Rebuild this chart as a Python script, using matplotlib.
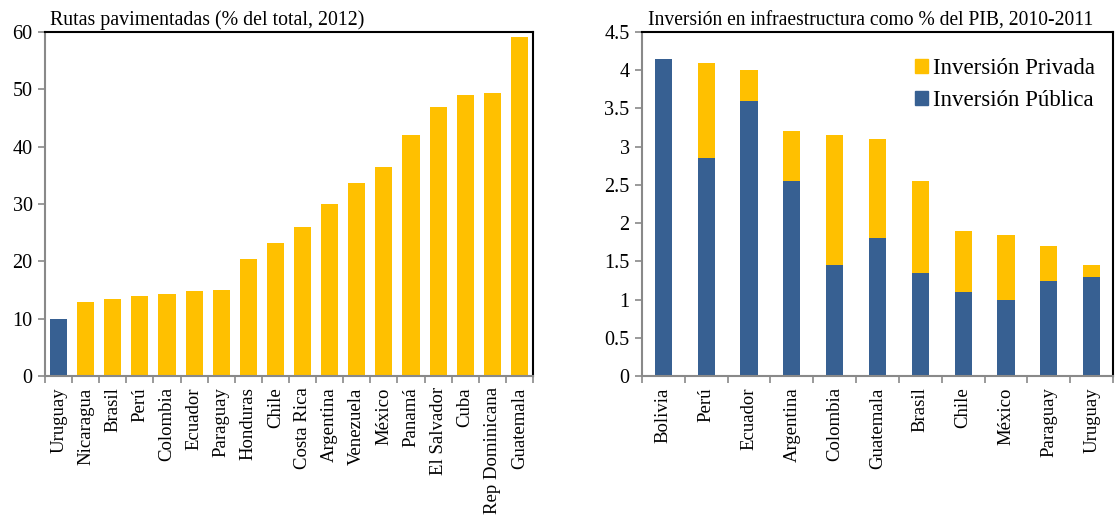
import matplotlib
matplotlib.use("Agg")
import matplotlib.pyplot as plt
import numpy as np
from matplotlib.patches import Patch

plt.rcParams['font.family'] = ['Liberation Serif', 'DejaVu Serif']

YELLOW = "#FFC000"
BLUE = "#376092"
GRAY = "#898989"

# left panel: paved roads
rutas_paises = ["Uruguay", "Nicaragua", "Brasil", "Perú", "Colombia", "Ecuador",
                "Paraguay", "Honduras", "Chile", "Costa Rica", "Argentina",
                "Venezuela", "México", "Panamá", "El Salvador", "Cuba",
                "Rep Dominicana", "Guatemala"]
rutas_valores = [10.0, 12.9, 13.4, 13.9, 14.3, 14.8, 15.1, 20.4, 23.3, 26.0,
                 30.0, 33.6, 36.4, 42.0, 46.9, 49.0, 49.4, 59.2]
rutas_yticks = [0, 10, 20, 30, 40, 50, 60]

# right panel: infrastructure investment
inv_paises = ["Bolivia", "Perú", "Ecuador", "Argentina", "Colombia", "Guatemala",
              "Brasil", "Chile", "México", "Paraguay", "Uruguay"]
inv_publica = [4.15, 2.85, 3.6, 2.55, 1.45, 1.8, 1.35, 1.1, 1.0, 1.25, 1.3]
inv_total = [4.15, 4.1, 4.0, 3.2, 3.15, 3.1, 2.55, 1.9, 1.85, 1.7, 1.45]
inv_privada = [t - p for t, p in zip(inv_total, inv_publica)]
inv_yticks = [0, 0.5, 1, 1.5, 2, 2.5, 3, 3.5, 4, 4.5]
inv_ylabels = ["0", "0.5", "1", "1.5", "2", "2.5", "3", "3.5", "4", "4.5"]

fig = plt.figure(figsize=(11.15, 5.16), dpi=100)


def style_axes(ax, n):
    ax.set_xlim(-0.5, n - 0.5)
    for s in ["left", "bottom"]:
        ax.spines[s].set_color(GRAY)
        ax.spines[s].set_linewidth(1.5)
    for s in ["top", "right"]:
        ax.spines[s].set_color("black")
        ax.spines[s].set_linewidth(1.5)
    ax.set_xticks(np.arange(n))
    ax.set_xticks(np.arange(n + 1) - 0.5, minor=True)
    ax.tick_params(axis="x", which="major", length=0, pad=8, labelsize=13.5,
                   rotation=90)
    ax.tick_params(axis="x", which="minor", length=5, color=GRAY, width=1.2,
                   direction="out")
    ax.tick_params(axis="y", length=5, color=GRAY, width=1.2, direction="out",
                   labelsize=14.5, pad=4)


# left chart
ax1 = fig.add_axes([0.0404, 0.271, 0.4376, 0.667])
colors1 = [BLUE] + [YELLOW] * (len(rutas_valores) - 1)
x1 = np.arange(len(rutas_paises))
ax1.bar(x1, rutas_valores, width=0.63, color=colors1, zorder=2)
style_axes(ax1, len(rutas_paises))
ax1.set_ylim(0, 60)
ax1.set_yticks(rutas_yticks)
ax1.set_xticklabels(rutas_paises, va="top")
ax1.text(0.01, 1.005, "Rutas pavimentadas (% del total, 2012)",
         transform=ax1.transAxes, ha="left", va="bottom", fontsize=14.3)

# right chart
ax2 = fig.add_axes([0.5758, 0.271, 0.4224, 0.667])
x2 = np.arange(len(inv_paises))
ax2.bar(x2, inv_publica, width=0.4, color=BLUE, zorder=2)
ax2.bar(x2, inv_privada, width=0.4, bottom=inv_publica, color=YELLOW, zorder=2)
style_axes(ax2, len(inv_paises))
ax2.set_ylim(0, 4.5)
ax2.set_yticks(inv_yticks)
ax2.set_yticklabels(inv_ylabels)
ax2.set_xticklabels(inv_paises, va="top")
ax2.text(0.485, 1.005, "Inversión en infraestructura como % del PIB, 2010-2011",
         transform=ax2.transAxes, ha="center", va="bottom", fontsize=14.1)

handles = [Patch(color=YELLOW, label="Inversión Privada"),
           Patch(color=BLUE, label="Inversión Pública")]
fig.legend(handles=handles, loc="upper left",
           bbox_to_anchor=(915 / 1115, 1 - 58 / 516),
           bbox_transform=fig.transFigure, borderpad=0, borderaxespad=0,
           frameon=False, fontsize=16.5, handlelength=0.55, handleheight=0.55,
           handletextpad=0.25, labelspacing=0.5)

fig.savefig("out.png", dpi=100)
